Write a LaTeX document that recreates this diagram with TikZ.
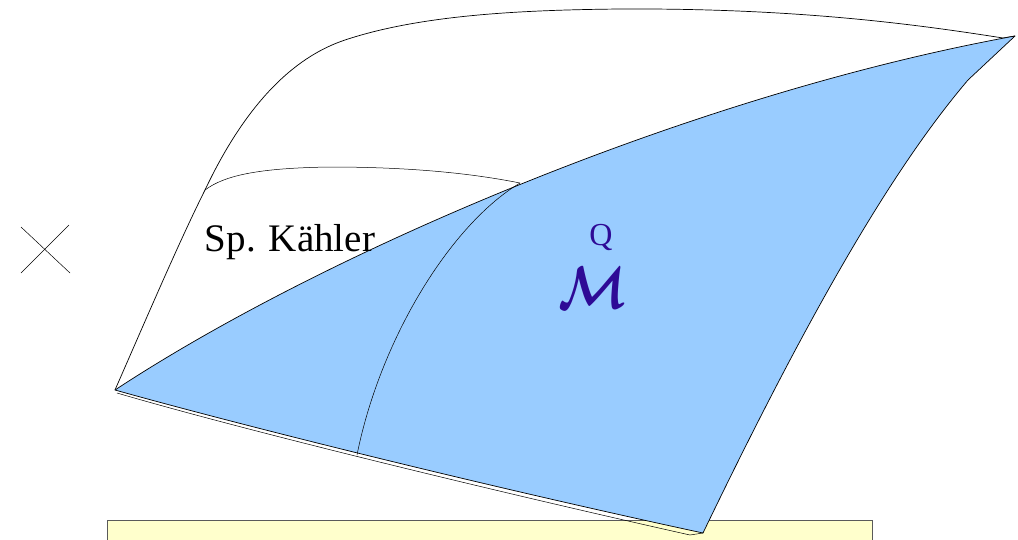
\documentclass[tikz,border=0pt]{standalone}
\usepackage{fontspec}
\usepackage{amsmath}
\setmainfont{Liberation Serif}
\definecolor{surfblue}{RGB}{153,204,255}
\definecolor{mqcol}{RGB}{46,10,150}
\definecolor{boxyellow}{RGB}{255,255,204}
\definecolor{boxedge}{RGB}{90,90,90}
\tikzset{
  edge/.style={draw=black, line width=0.7pt, line join=round},
  thinedge/.style={draw=black, line width=0.5pt},
}
\begin{document}
\begin{tikzpicture}[x=1pt,y=-1pt]
\useasboundingbox (0,0) rectangle (1018,539);
\begin{scope}
\clip (0,0) rectangle (1018,539);
% yellow box at bottom
\draw[fill=boxyellow, draw=boxedge, line width=0.8pt] (107,520) rectangle (872,560);
\end{scope}
% named points
\coordinate (A) at (115,390);
\coordinate (B) at (1015,36);
\coordinate (Bw) at (1003,38);
\coordinate (Bk) at (968,80);
\coordinate (C) at (703,533);
\coordinate (P) at (520,183);
\coordinate (Q) at (357,455);
\coordinate (W) at (205,190);
% white surface: outer curve
\draw[edge] (A) .. controls (150,310) and (180,240) .. (W)
  .. controls (250,95) and (300,55) .. (345,40)
  .. controls (420,15) and (520,10) .. (620,9)
  .. controls (800,8) and (920,25) .. (Bw) -- (B);
% middle curve
\draw[thinedge] (W) .. controls (225,175) and (260,168) .. (330,167)
  .. controls (420,167) and (480,175) .. (P);
% blue surface
\draw[edge, fill=surfblue] (A) .. controls (320,255) and (690,95) .. (B)
  -- (Bk) .. controls (900,160) and (820,290) .. (C)
  .. controls (480,485) and (240,425) .. cycle;
% fold line near bottom edge
\draw[thinedge] (117,393) .. controls (240,429) and (480,488) .. (690,535) -- (C);
% inner curve
\draw[thinedge] (P) .. controls (450,225) and (380,340) .. (Q);
% cross
\draw[thinedge] (21,227) -- (70,273);
\draw[thinedge] (21,273) -- (69,225);
% labels
\node[anchor=base, inner sep=0pt, font=\fontsize{39}{44}\selectfont] (sk) at (290,251) {Sp. K\"ahler};
\node[anchor=base, inner sep=0pt, text depth=0pt, text=mqcol, font=\fontsize{32}{36}\selectfont] (q) at (601,245) {Q};
\node[anchor=south, inner sep=0pt, text depth=0pt, text=mqcol, font=\fontsize{20}{24}\selectfont] (m) at (593,309) {\scalebox{2.4}[2.9]{$\boldsymbol{\mathcal{M}}$}};
\end{tikzpicture}
\end{document}
